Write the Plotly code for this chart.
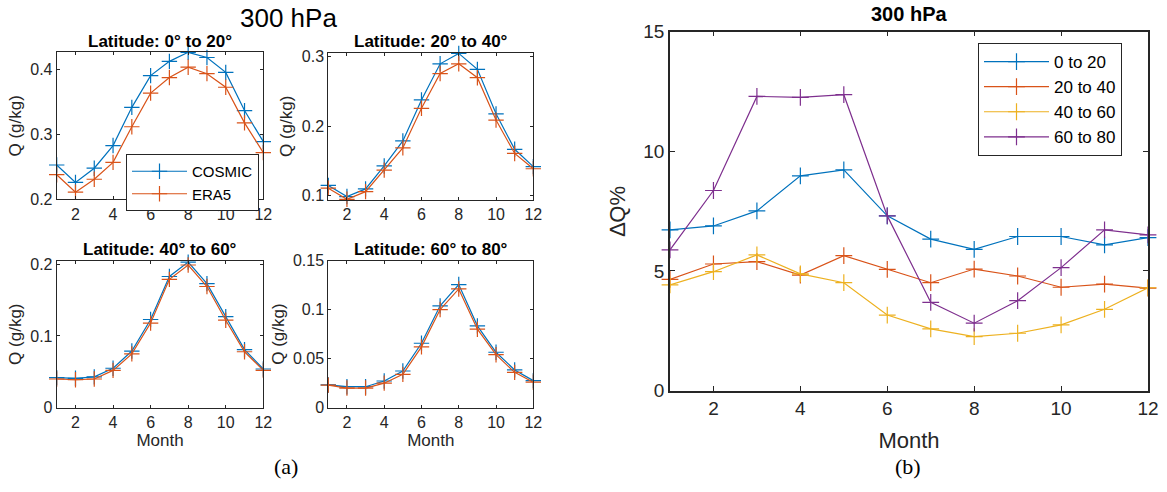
import plotly.graph_objects as go

months = list(range(1, 13))

# Specific humidity at 300 hPa (g/kg), by latitude band
cosmic_0_20 = [0.253, 0.226, 0.248, 0.283, 0.342, 0.391, 0.413, 0.427, 0.419, 0.396, 0.337, 0.289]
era5_0_20 = [0.238, 0.211, 0.231, 0.257, 0.312, 0.364, 0.388, 0.404, 0.394, 0.373, 0.318, 0.272]

cosmic_20_40 = [0.115, 0.099, 0.110, 0.143, 0.179, 0.238, 0.290, 0.305, 0.282, 0.218, 0.167, 0.142]
era5_20_40 = [0.111, 0.095, 0.106, 0.137, 0.169, 0.226, 0.276, 0.290, 0.270, 0.209, 0.161, 0.139]

cosmic_40_60 = [0.042, 0.041, 0.043, 0.055, 0.079, 0.123, 0.183, 0.203, 0.173, 0.127, 0.081, 0.054]
era5_40_60 = [0.040, 0.039, 0.040, 0.052, 0.075, 0.118, 0.179, 0.199, 0.169, 0.122, 0.078, 0.052]

cosmic_60_80 = [0.0232, 0.0214, 0.0214, 0.0272, 0.0374, 0.0657, 0.1038, 0.1255, 0.0834, 0.0565, 0.0385, 0.0276]
era5_60_80 = [0.0230, 0.0200, 0.0200, 0.0250, 0.0340, 0.0620, 0.1000, 0.1210, 0.0800, 0.0540, 0.0360, 0.0260]

# Relative difference (%) by latitude band
dq_0_20 = [6.72, 6.88, 7.51, 8.97, 9.22, 7.30, 6.33, 5.90, 6.44, 6.44, 6.09, 6.39]
dq_20_40 = [4.65, 5.29, 5.39, 4.83, 5.64, 5.07, 4.51, 5.08, 4.79, 4.32, 4.45, 4.28]
dq_40_60 = [4.42, 4.97, 5.67, 4.88, 4.51, 3.16, 2.58, 2.26, 2.40, 2.75, 3.40, 4.30]
dq_60_80 = [5.88, 8.36, 12.29, 12.25, 12.36, 7.30, 3.69, 2.82, 3.76, 5.14, 6.72, 6.51]

panel_titles = ["Latitude: 0° to 20°", "Latitude: 20° to 40°",
                "Latitude: 40° to 60°", "Latitude: 60° to 80°"]
band_labels = ["0 to 20", "20 to 40", "40 to 60", "60 to 80"]

BLUE = "#0072BD"
ORANGE = "#D95319"
YELLOW = "#EDB120"
PURPLE = "#7E2F8E"
TXT = "#262626"
FONT = "Liberation Sans, Arial, sans-serif"
SERIF = "Liberation Serif, Times New Roman, serif"

W, H = 1167, 492


def fx(px):
    return px / W


def fy(py):
    return 1 - py / H


def label(x, y, text, size, family=FONT, color="#000000"):
    fig.add_annotation(x=fx(x), y=fy(y), xref="paper", yref="paper", text=text,
                       showarrow=False, xanchor="center", yanchor="middle",
                       font=dict(family=family, size=size, color=color))


fig = go.Figure()

panels = [
    (cosmic_0_20, era5_0_20, (56.7, 263.3), (52.3, 199.3), [0.2, 0.427], [0.2, 0.3, 0.4]),
    (cosmic_20_40, era5_20_40, (328.3, 533.3), (52.7, 200.0), [0.094, 0.306], [0.1, 0.2, 0.3]),
    (cosmic_40_60, era5_40_60, (56.7, 263.3), (260.7, 407.7), [0, 0.205], [0, 0.1, 0.2]),
    (cosmic_60_80, era5_60_80, (328.3, 533.3), (260.5, 407.7), [0, 0.15], [0, 0.05, 0.1, 0.15]),
]

for i, (cos_v, era_v, (x0, x1), (y0, y1), yr, ytv) in enumerate(panels):
    n = "" if i == 0 else str(i + 1)
    xa, ya = "x" + n, "y" + n
    fig.add_trace(go.Scatter(
        x=months, y=cos_v, xaxis=xa, yaxis=ya, mode="lines+markers", name="COSMIC",
        line=dict(color=BLUE, width=1.2),
        marker=dict(symbol="cross-thin", size=11, line=dict(color=BLUE, width=1.2)),
        showlegend=(i == 0), legend="legend", cliponaxis=False))
    fig.add_trace(go.Scatter(
        x=months, y=era_v, xaxis=xa, yaxis=ya, mode="lines+markers", name="ERA5",
        line=dict(color=ORANGE, width=1.2),
        marker=dict(symbol="cross-thin", size=11, line=dict(color=ORANGE, width=1.2)),
        showlegend=(i == 0), legend="legend", cliponaxis=False))

    bottom = i >= 2
    fig.layout["xaxis" + n] = dict(
        domain=[fx(x0), fx(x1)], anchor=ya, range=[1, 12], automargin=False,
        tickvals=[2, 4, 6, 8, 10, 12], ticks="inside", ticklen=3, tickcolor=TXT,
        showline=True, linecolor=TXT, linewidth=1, mirror="ticks", showgrid=False,
        zeroline=False, tickfont=dict(family=FONT, size=16, color=TXT),
        title=dict(text="Month" if bottom else "", font=dict(family=FONT, size=17, color=TXT),
                   standoff=2))
    fig.layout["yaxis" + n] = dict(
        domain=[fy(y1), fy(y0)], anchor=xa, range=yr, automargin=False,
        tickvals=ytv, ticks="inside", ticklen=3, tickcolor=TXT,
        showline=True, linecolor=TXT, linewidth=1, mirror="ticks", showgrid=False,
        zeroline=False, tickfont=dict(family=FONT, size=16, color=TXT),
        title=dict(text="Q (g/kg)", font=dict(family=FONT, size=17, color=TXT), standoff=4))
    label((x0 + x1) / 2, y0 - 11, "<b>" + panel_titles[i] + "</b>", 17)

# Right-hand panel: relative difference by latitude band
dq_series = [dq_0_20, dq_20_40, dq_40_60, dq_60_80]
dq_colors = [BLUE, ORANGE, YELLOW, PURPLE]
for vals, lab, col in zip(dq_series, band_labels, dq_colors):
    fig.add_trace(go.Scatter(
        x=months, y=vals, xaxis="x5", yaxis="y5", mode="lines+markers", name=lab,
        line=dict(color=col, width=1.2),
        marker=dict(symbol="cross-thin", size=12, line=dict(color=col, width=1.2)),
        legend="legend2", cliponaxis=False))

fig.layout["xaxis5"] = dict(
    domain=[fx(670), fx(1148)], anchor="y5", range=[1, 12], automargin=False,
    tickvals=[2, 4, 6, 8, 10, 12], ticks="inside", ticklen=5, tickcolor=TXT,
    showline=True, linecolor=TXT, linewidth=1.5, mirror="ticks", showgrid=False,
    zeroline=False, tickfont=dict(family=FONT, size=19, color=TXT),
    title=dict(text="Month", font=dict(family=FONT, size=22, color=TXT), standoff=14))
fig.layout["yaxis5"] = dict(
    domain=[fy(390.7), fy(31.5)], anchor="x5", range=[0, 15], automargin=False,
    tickvals=[0, 5, 10, 15], ticks="inside", ticklen=5, tickcolor=TXT,
    showline=True, linecolor=TXT, linewidth=1.5, mirror="ticks", showgrid=False,
    zeroline=False, tickfont=dict(family=FONT, size=19, color=TXT),
    title=dict(text="∆Q%", font=dict(family=FONT, size=22, color=TXT), standoff=12))

label(909, 14, "<b>300 hPa</b>", 20)
label(288, 18, "300 hPa", 26)
label(286, 466, "(a)", 22, family=SERIF)
label(908, 466, "(b)", 22, family=SERIF)

fig.update_layout(
    width=W, height=H, margin=dict(l=0, r=0, t=0, b=0, autoexpand=False),
    paper_bgcolor="white", plot_bgcolor="white",
    font=dict(family=FONT, color=TXT),
    legend=dict(x=fx(126), y=fy(154), xanchor="left", yanchor="top",
                bgcolor="white", bordercolor=TXT, borderwidth=1,
                font=dict(family=FONT, size=15, color="#000000"),
                tracegroupgap=0, itemwidth=55),
    legend2=dict(x=fx(978), y=fy(43), xanchor="left", yanchor="top",
                 bgcolor="white", bordercolor=TXT, borderwidth=1,
                 font=dict(family=FONT, size=17, color="#000000"),
                 tracegroupgap=0, itemwidth=65),
)

fig.write_html("out.html")
